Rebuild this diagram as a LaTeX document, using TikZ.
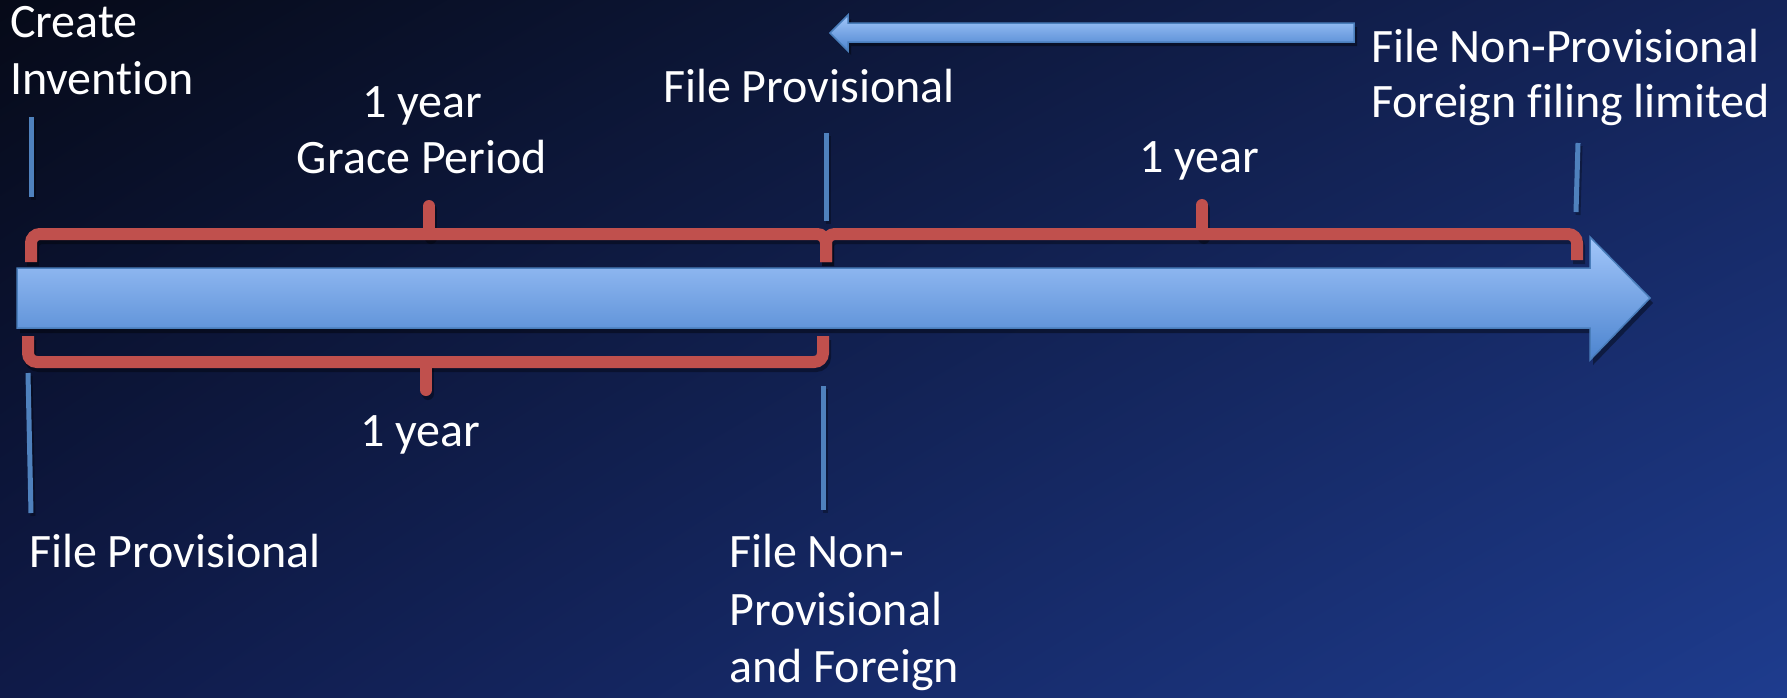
\documentclass[tikz,border=0pt]{standalone}
\usepackage{fontspec}
\setmainfont{Carlito}[Ligatures=NoCommon]
\usetikzlibrary{shadings}
\definecolor{bgUL}{HTML}{060A18}
\definecolor{bgUR}{HTML}{14245A}
\definecolor{bgLL}{HTML}{0F1A48}
\definecolor{bgLR}{HTML}{1E3C8E}
\definecolor{braceRed}{HTML}{C0504D}
\definecolor{tickBlue}{HTML}{4F81BD}
\definecolor{arrTop}{HTML}{A2C6FA}
\definecolor{arrBot}{HTML}{4C84CF}
\definecolor{arrEdge}{HTML}{4A7EBB}
\begin{document}
\begin{tikzpicture}[x=1pt,y=-1pt,
  txt/.style={text=white,font=\fontsize{48}{57}\selectfont,inner sep=0pt},
  brace/.style={draw=braceRed,line width=12pt,rounded corners=9pt},
  nib/.style={draw=braceRed,line width=12pt,line cap=round},
  braceshadow/.style={draw=black,opacity=.35,line width=12pt,rounded corners=9pt},
  nibshadow/.style={draw=black,opacity=.35,line width=12pt,line cap=round},
  tick/.style={draw=tickBlue,line width=5pt},
  tickshadow/.style={draw=black,opacity=.3,line width=5pt},
  arrowbody/.style={top color=arrTop,bottom color=arrBot,draw=arrEdge,line width=1.5pt},
  arrowshadow/.style={fill=black,opacity=.4}
]
% background
\shade[upper left=bgUL,upper right=bgUR,lower left=bgLL,lower right=bgLR] (0,0) rectangle (1787,697);
\useasboundingbox (0,0) rectangle (1787,697);

% big timeline arrow
\fill[arrowshadow,shift={(3,5)}] (17,268) -- (1590,268) -- (1590,237) -- (1650,298) -- (1590,360) -- (1590,328) -- (17,328) -- cycle;
\shade[arrowbody] (17,268) -- (1590,268) -- (1590,237) -- (1650,298) -- (1590,360) -- (1590,328) -- (17,328) -- cycle;

% top small arrow
\fill[arrowshadow,shift={(3,4)}] (1354,23) -- (848,23) -- (848,15) -- (830,33) -- (848,51) -- (848,42) -- (1354,42) -- cycle;
\shade[arrowbody] (1354,23) -- (848,23) -- (848,15) -- (830,33) -- (848,51) -- (848,42) -- (1354,42) -- cycle;

% brace shadows
\begin{scope}[shift={(2,4)}]
\draw[braceshadow] (31,262) -- (31,234) -- (826,234) -- (826,262);
\draw[nibshadow] (429,234) -- (429,206);
\draw[braceshadow] (826,262) -- (826,234) -- (1577,234) -- (1577,260);
\draw[nibshadow] (1202,234) -- (1202,205);
\draw[braceshadow] (28,336) -- (28,362) -- (823,362) -- (823,336);
\draw[nibshadow] (426,362) -- (426,390);
\end{scope}

% braces
\draw[brace] (31,262) -- (31,234) -- (826,234) -- (826,262);
\draw[nib] (429,234) -- (429,206);
\draw[brace] (826,262) -- (826,234) -- (1577,234) -- (1577,260);
\draw[nib] (1202,234) -- (1202,205);
\draw[brace] (28,336) -- (28,362) -- (823,362) -- (823,336);
\draw[nib] (426,362) -- (426,390);

% tick lines
\begin{scope}[shift={(2,3)}]
\draw[tickshadow] (31,117) -- (31,197);
\draw[tickshadow] (28,373) -- (31,513);
\draw[tickshadow] (826,133) -- (826,221);
\draw[tickshadow] (823,386) -- (823,510);
\draw[tickshadow] (1578,143) -- (1576,212);
\end{scope}
\draw[tick] (31,117) -- (31,197);
\draw[tick] (28,373) -- (31,513);
\draw[tick] (826,133) -- (826,221);
\draw[tick] (823,386) -- (823,510);
\draw[tick] (1578,143) -- (1576,212);

% texts
\node[txt,anchor=base west] (ci1) at (10,37) {Create};
\node[txt,anchor=base west] (ci2) at (10,94) {Invention};
\node[txt,anchor=base] (gp1) at (422,117) {1 year};
\node[txt,anchor=base] (gp2) at (422,173) {Grace Period};
\node[txt,anchor=base west] (fp1) at (663,102) {File Provisional};
\node[txt,anchor=base west] (nf1) at (1371,62) {File Non-Provisional};
\node[txt,anchor=base west] (nf2) at (1371,117) {Foreign filing limited};
\node[txt,anchor=base] (y2) at (1199,172) {1 year};
\node[txt,anchor=base west] (y3) at (360,446) {1 year};
\node[txt,anchor=base west] (fp2) at (29,567) {File Provisional};
\node[txt,anchor=base west] (nf3) at (729,567) {File Non-};
\node[txt,anchor=base west] (nf4) at (729,625) {Provisional};
\node[txt,anchor=base west] (nf5) at (729,682) {and Foreign};
\end{tikzpicture}
\end{document}
